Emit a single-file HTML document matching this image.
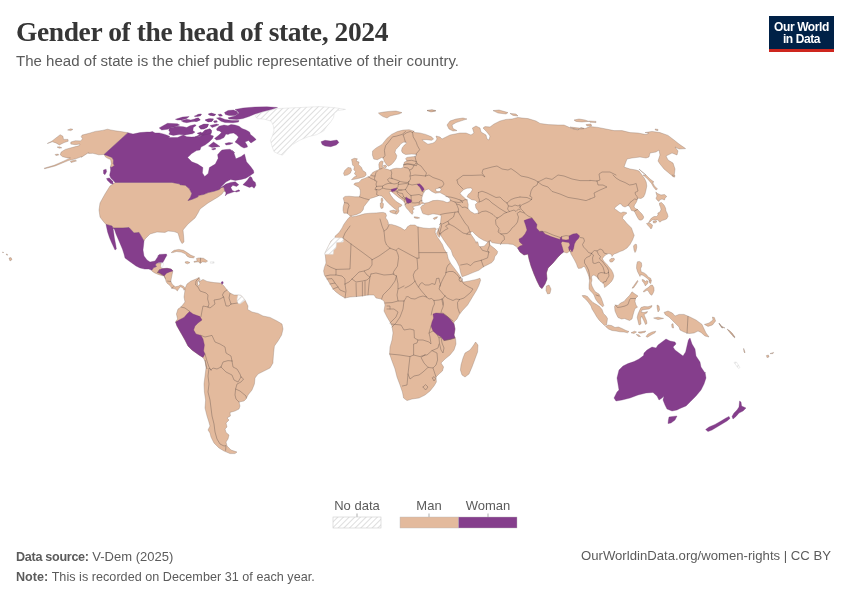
<!DOCTYPE html>
<html lang="en">
<head>
<meta charset="utf-8">
<title>Gender of the head of state, 2024</title>
<style>
html,body{margin:0;padding:0;background:#fff;}
body{width:850px;height:600px;position:relative;overflow:hidden;font-family:"Liberation Sans",sans-serif;}
.title{position:absolute;left:16px;top:15.5px;margin:0;font-family:"Liberation Serif",serif;font-weight:bold;font-size:27.5px;line-height:32px;color:#363636;white-space:nowrap;letter-spacing:-0.4px;}
.subtitle{position:absolute;left:16px;top:51.3px;margin:0;font-size:15.05px;line-height:20px;color:#5b5b5b;white-space:nowrap;}
.logo{position:absolute;left:769px;top:16px;width:65px;height:33px;background:#002147;border-bottom:3px solid #ce261e;color:#fff;font-weight:bold;font-size:12px;line-height:12px;text-align:center;letter-spacing:-0.4px;}
.logo span{display:block;}
.logo span:first-child{margin-top:4.5px;}
.map{position:absolute;left:0;top:0;width:850px;height:600px;}
.legend{position:absolute;left:0;top:0;width:850px;height:600px;pointer-events:none;}
.footer{position:absolute;font-size:12.6px;line-height:16px;color:#5b5b5b;white-space:nowrap;}
.footer b{font-weight:bold;}
.src{left:16px;top:548.6px;font-size:13px;}
.src b{font-size:12.6px;letter-spacing:-0.3px;}
.note{left:16px;top:569px;letter-spacing:0.03px;}
.url{right:19px;top:548px;font-size:13.15px;}
</style>
</head>
<body>
<h1 class="title">Gender of the head of state, 2024</h1>
<p class="subtitle">The head of state is the chief public representative of their country.</p>
<div class="logo"><span>Our World</span><span>in Data</span></div>
<svg class="map" width="850" height="600" viewBox="0 0 850 600">
<defs><pattern id="nd" patternUnits="userSpaceOnUse" width="4" height="4" patternTransform="rotate(45)"><rect width="4" height="4" fill="#fff"/><line x1="0.5" y1="0" x2="0.5" y2="4" stroke="#dedede" stroke-width="1"/></pattern></defs>
<g fill="#e3ba9d" stroke="#7a675c" stroke-width="0.3" stroke-linejoin="round">
<path d="M47.3,143.5 L51.8,141.2 L60.2,134.7 L62.9,136.2 L63.5,139.4 L68.0,139.4 L68.2,141.2 L64.1,142.6 L59.4,144.9 L55.9,142.9 L52.4,141.8Z"/>
<path d="M67.6,130.0 L70.8,128.8 L72.9,129.4 L70.8,130.6Z"/>
<path d="M57.1,147.1 L59.4,146.8 L61.8,147.8 L59.4,148.2Z"/>
<path d="M55.1,154.5 L58.2,154.1 L58.6,155.1 L55.9,155.5Z"/>
<path d="M70.4,161.2 L75.3,160.0 L76.5,160.9 L71.2,162.6Z"/>
<path d="M128.0,132.7 L122.4,131.8 L115.3,130.8 L110.6,129.9 L107.6,129.2 L102.4,130.4 L95.3,131.4 L89.4,133.2 L82.1,135.1 L81.2,136.7 L82.6,138.8 L80.6,140.9 L75.3,140.7 L70.8,142.1 L70.8,144.1 L75.3,144.7 L80.0,144.0 L79.4,145.6 L72.9,147.3 L65.3,149.4 L61.2,152.0 L60.2,154.7 L62.6,156.7 L67.6,157.9 L70.4,157.9 L63.5,161.2 L54.1,165.3 L44.1,168.2 L44.7,168.8 L55.3,165.9 L68.2,160.6 L71.5,159.8 L76.5,158.6 L81.8,156.5 L81.2,157.4 L88.8,152.4 L88.5,153.5 L92.9,153.3 L98.8,154.8 L104.1,154.5Z"/>
<path d="M104.1,154.5 L108.8,156.2 L112.0,157.4 L113.5,160.0 L113.2,163.8 L114.4,165.3 L112.0,167.3 L110.4,167.1 L111.3,163.5 L110.6,159.4 L108.2,158.6 L105.6,157.1Z"/>
<path d="M115.1,182.4 L110.0,186.0 L105.0,194.0 L100.0,203.0 L99.0,210.0 L100.0,217.0 L103.0,221.0 L106.0,224.4 L112.0,226.0 L113.0,228.0 L123.0,228.0 L129.0,227.6 L134.0,233.0 L139.0,232.4 L144.0,241.0 L145.0,239.0 L150.0,234.0 L157.0,232.0 L165.0,232.4 L168.0,231.0 L174.0,231.6 L178.0,233.0 L180.0,240.0 L182.0,243.6 L184.0,242.0 L183.6,236.0 L183.0,230.0 L188.0,224.0 L195.0,218.0 L198.0,213.0 L200.0,209.0 L204.0,206.0 L208.0,203.0 L213.0,200.0 L218.0,197.0 L222.0,194.0 L224.0,191.0 L226.1,192.6 L224.7,190.6 L223.8,187.1 L221.2,187.6 L219.4,189.4 L214.1,191.2 L208.2,192.6 L203.5,194.5 L198.8,195.3 L197.6,197.1 L191.8,199.4 L188.0,200.6 L190.6,197.1 L191.8,193.5 L189.4,188.8 L185.3,185.3 L180.0,184.7 L180.0,184.0 L172.0,182.4Z"/>
<path d="M151.8,270.3 L153.5,267.7 L156.5,266.5 L155.3,265.0 L156.5,263.2 L161.2,263.0 L160.9,266.8 L161.8,268.5 L167.1,268.3 L171.2,269.1 L172.9,270.9 L172.0,275.0 L171.2,279.1 L170.8,281.5 L172.4,284.4 L175.3,286.8 L178.2,286.2 L180.6,285.0 L183.5,286.2 L185.3,288.5 L184.1,290.3 L182.9,287.9 L180.6,286.8 L178.8,288.5 L177.4,290.9 L175.3,289.1 L171.8,288.2 L170.0,285.6 L167.1,283.2 L166.1,281.5 L165.3,278.5 L164.1,275.9 L161.8,275.6 L158.2,274.4 L154.7,272.9 L152.4,271.5Z"/>
<path d="M171.2,252.6 L174.1,250.3 L178.8,249.4 L183.5,250.3 L187.1,252.6 L190.6,255.0 L194.7,256.8 L193.5,257.9 L189.4,257.4 L187.1,256.2 L185.3,253.8 L181.2,252.1 L176.5,251.5 L172.9,252.6Z"/>
<path d="M196.5,258.5 L198.8,257.9 L203.5,258.3 L207.6,261.1 L205.9,262.3 L202.4,261.8 L200.6,263.2 L198.2,261.8 L194.1,262.3 L193.9,261.5 L197.1,260.9Z"/>
<path d="M185.3,261.8 L187.6,261.5 L190.0,262.6 L187.6,263.8 L185.3,263.0Z"/>
<path d="M185.0,288.6 L187.0,284.0 L191.0,281.0 L196.0,279.0 L199.0,277.4 L200.0,279.4 L198.4,282.0 L201.0,280.6 L203.0,279.4 L207.0,281.4 L214.0,282.6 L220.0,283.0 L222.0,284.0 L224.0,286.0 L227.0,290.0 L230.0,293.0 L234.0,295.0 L238.0,295.0 L241.0,295.4 L245.0,300.0 L248.0,306.0 L247.6,309.4 L252.0,312.0 L258.0,313.4 L263.0,316.0 L270.0,317.4 L277.0,321.0 L282.0,324.0 L283.0,329.0 L281.6,335.0 L278.0,341.0 L274.4,346.0 L273.6,353.0 L273.0,361.0 L273.0,363.0 L270.0,368.0 L264.0,371.0 L258.0,374.0 L255.0,378.0 L254.4,384.0 L252.0,390.0 L248.0,395.0 L246.0,399.0 L244.0,401.0 L239.0,402.0 L240.0,406.0 L239.0,409.0 L235.0,411.0 L230.0,412.4 L230.4,416.0 L227.0,418.0 L229.0,420.0 L226.0,423.0 L227.0,427.0 L225.0,429.0 L226.0,432.4 L229.0,435.0 L228.0,439.0 L226.0,442.0 L227.0,446.0 L231.0,450.0 L237.0,452.0 L235.0,453.6 L230.0,453.6 L224.0,451.0 L219.0,448.0 L214.0,443.0 L211.0,437.0 L210.0,433.0 L208.0,430.0 L210.0,426.0 L208.6,421.0 L207.0,416.0 L205.0,408.0 L205.6,400.0 L204.4,392.0 L204.0,384.0 L205.0,376.0 L206.0,368.0 L205.0,360.0 L207.0,369.0 L205.0,361.0 L203.0,357.4 L199.0,355.0 L192.0,350.0 L188.0,346.0 L185.0,340.0 L181.0,333.0 L177.0,326.0 L175.6,322.0 L176.0,321.0 L177.6,319.0 L176.4,314.0 L178.0,309.0 L181.0,307.0 L185.0,302.0 L184.0,297.0 L185.0,290.0Z"/>
<path d="M415.0,132.6 L413.2,130.9 L409.1,129.7 L403.2,130.1 L397.4,131.5 L391.5,134.4 L386.8,138.5 L382.1,144.4 L376.2,147.9 L372.6,150.9 L372.4,155.0 L373.8,159.1 L377.4,159.7 L381.5,157.6 L383.2,157.9 L384.4,161.5 L386.8,165.0 L388.5,166.2 L391.5,164.4 L393.8,162.1 L396.2,158.5 L396.8,155.6 L395.0,152.6 L395.6,149.7 L398.5,146.8 L400.9,143.8 L403.2,142.3 L406.2,142.1 L406.5,143.2 L404.4,145.0 L402.1,147.9 L401.5,150.9 L402.6,152.9 L405.6,154.5 L411.5,154.1 L416.4,154.3 L415.9,156.4 L410.3,156.9 L406.8,157.4 L405.6,158.8 L407.0,160.9 L404.4,162.1 L403.8,164.4 L403.2,167.4 L400.9,168.5 L396.2,168.2 L392.6,168.9 L390.3,170.3 L386.8,169.1 L384.4,168.5 L383.2,166.8 L382.1,166.8 L382.6,164.4 L383.2,161.5 L381.5,160.9 L379.7,162.1 L378.8,164.4 L379.1,167.9 L379.7,169.1 L377.4,170.3 L375.0,171.2 L372.6,172.6 L370.9,175.0 L369.1,176.8 L366.8,177.4 L364.4,178.5 L361.5,179.5 L360.3,180.9 L358.5,182.6 L355.0,183.0 L353.8,184.4 L356.8,186.2 L359.1,187.4 L360.3,190.3 L360.3,193.8 L359.5,196.8 L355.0,196.8 L349.1,196.2 L345.0,196.4 L343.2,197.9 L343.8,200.3 L344.4,202.6 L343.2,206.8 L343.0,210.3 L343.8,213.2 L346.8,213.2 L348.5,214.4 L350.3,216.2 L352.6,215.6 L356.8,214.4 L360.9,212.6 L363.2,209.7 L363.8,206.8 L365.6,204.4 L367.9,201.5 L369.1,199.7 L370.3,198.5 L373.8,197.4 L377.4,196.2 L378.5,195.6 L381.5,195.9 L383.8,197.9 L386.8,201.5 L390.3,205.0 L393.8,207.9 L396.8,210.3 L395.2,212.9 L395.9,214.4 L397.9,213.2 L399.1,210.9 L398.3,209.1 L398.8,207.0 L400.9,206.5 L402.1,205.0 L399.5,203.6 L396.2,201.5 L393.2,198.5 L390.9,195.6 L389.4,192.6 L389.7,191.5 L391.2,191.5 L392.6,192.6 L395.0,194.4 L398.5,197.4 L402.1,199.7 L403.8,201.5 L405.0,203.8 L405.6,206.8 L406.8,208.5 L408.5,210.3 L410.3,212.6 L412.1,214.4 L413.2,212.6 L412.6,210.3 L414.4,209.1 L412.6,206.8 L416.2,205.8 L419.7,205.0 L421.5,203.8 L424.4,203.2 L424.6,204.4 L422.1,205.4 L420.6,207.4 L421.5,210.3 L422.6,213.2 L423.5,213.8 L428.2,215.0 L432.9,213.8 L437.6,214.4 L441.2,215.6 L440.9,218.5 L440.6,222.1 L440.0,225.6 L438.8,228.5 L437.6,230.9 L436.6,233.2 L437.9,235.6 L439.3,237.4 L440.1,235.6 L440.9,233.2 L440.6,235.0 L443.5,239.7 L447.6,245.6 L451.2,250.3 L452.9,255.6 L456.5,260.9 L459.4,266.8 L460.6,272.6 L462.1,276.8 L467.1,275.0 L472.9,272.6 L478.8,270.3 L483.5,266.8 L488.2,264.4 L491.8,262.6 L494.1,259.7 L494.7,256.8 L497.1,253.8 L497.6,251.5 L495.3,249.1 L492.4,246.8 L490.0,245.0 L489.4,242.1 L490.4,240.3 L488.2,241.5 L486.5,243.8 L484.1,246.2 L480.0,246.8 L478.6,245.4 L477.9,242.3 L476.7,241.5 L476.2,243.2 L475.3,240.9 L473.5,237.9 L471.8,235.6 L470.0,232.6 L472.4,231.5 L475.3,234.4 L478.8,237.4 L483.5,240.3 L488.2,242.1 L490.6,240.9 L491.8,242.6 L495.3,243.2 L500.0,243.8 L507.1,243.8 L512.9,244.4 L516.5,246.8 L517.6,248.0 L520.0,252.0 L524.0,255.0 L528.0,254.0 L529.0,259.0 L531.0,266.0 L534.0,274.0 L537.0,281.0 L540.0,287.0 L542.0,288.6 L545.0,284.0 L547.0,279.0 L546.4,273.0 L548.0,268.0 L553.0,263.0 L558.0,257.0 L561.0,254.0 L563.6,252.0 L567.0,253.0 L570.0,251.0 L571.0,254.0 L572.5,256.5 L574.5,260.0 L576.5,264.0 L577.5,267.0 L578.5,268.5 L581.5,268.0 L583.5,266.5 L585.0,267.0 L586.5,270.5 L588.0,274.0 L589.0,277.0 L589.5,281.0 L589.0,285.0 L589.0,289.0 L590.5,291.0 L592.5,293.0 L594.0,295.0 L595.5,299.0 L598.0,302.5 L600.5,305.0 L602.8,306.8 L603.8,305.5 L602.5,301.5 L601.2,298.0 L599.0,294.0 L598.0,293.5 L595.0,291.5 L593.5,289.0 L592.0,286.0 L591.2,283.0 L592.0,280.0 L591.5,277.0 L592.5,275.5 L594.0,275.0 L595.5,276.0 L597.0,277.0 L598.5,279.0 L600.5,281.5 L603.0,283.0 L604.0,284.5 L604.5,287.5 L606.0,286.5 L609.0,284.0 L611.5,281.5 L613.0,279.0 L613.8,276.0 L613.0,273.0 L611.5,270.0 L609.0,267.0 L607.0,264.5 L604.5,262.0 L603.0,260.0 L602.5,258.5 L604.0,256.5 L605.5,255.0 L607.0,254.0 L609.0,253.5 L611.5,254.5 L612.0,256.5 L613.0,255.0 L614.0,254.0 L617.0,253.0 L620.0,251.5 L623.0,250.5 L627.0,248.0 L630.0,244.5 L632.5,240.0 L634.0,236.0 L634.2,235.0 L634.0,235.0 L632.5,231.0 L631.5,228.0 L629.0,225.5 L626.5,223.0 L624.5,220.5 L622.5,218.5 L623.0,216.5 L625.0,214.5 L627.0,213.0 L625.0,212.2 L623.0,212.0 L621.0,213.0 L619.0,212.0 L616.5,210.0 L614.5,209.0 L615.0,207.5 L617.5,205.5 L619.5,204.0 L621.2,204.0 L622.5,206.0 L625.0,207.0 L628.0,205.5 L629.5,206.5 L630.5,208.5 L631.5,210.5 L634.0,211.0 L635.0,212.5 L636.2,215.0 L637.5,217.5 L639.0,219.8 L641.0,220.2 L643.0,219.0 L643.8,217.0 L642.0,214.0 L639.5,211.5 L637.5,209.5 L635.5,208.5 L634.0,207.0 L634.5,205.0 L636.2,202.5 L637.0,200.5 L637.0,199.5 L638.5,198.2 L641.0,198.5 L643.5,197.0 L645.0,194.0 L646.0,190.0 L646.8,186.0 L646.2,182.0 L644.5,178.5 L642.0,175.0 L639.0,171.0 L636.0,170.0 L630.0,169.0 L624.0,167.0 L627.0,159.0 L632.0,158.0 L640.0,157.0 L646.0,158.0 L649.0,157.0 L650.0,153.0 L656.0,152.0 L659.0,150.0 L660.0,155.0 L658.0,161.0 L660.0,164.0 L664.0,169.0 L670.0,174.0 L674.0,177.0 L675.0,169.0 L673.0,163.0 L668.0,160.0 L666.0,156.0 L672.0,153.0 L677.0,155.0 L678.0,151.0 L675.0,147.0 L679.0,149.0 L685.6,148.6 L679.0,144.0 L674.0,140.0 L668.0,135.4 L660.0,132.6 L652.0,131.4 L645.0,132.6 L649.0,133.0 L646.0,134.6 L638.0,133.0 L630.0,132.6 L622.0,130.6 L614.0,130.6 L606.0,129.0 L598.0,127.4 L590.0,126.6 L585.0,128.6 L581.0,127.4 L578.0,130.0 L574.0,129.0 L570.0,127.0 L584.0,128.6 L578.0,129.4 L572.0,128.6 L564.0,125.0 L558.0,125.0 L548.0,124.6 L540.0,123.4 L536.0,121.0 L528.0,118.6 L522.0,118.0 L518.0,117.4 L512.0,119.0 L506.0,119.4 L500.0,121.0 L494.0,124.0 L490.0,127.0 L485.0,126.6 L483.0,128.0 L486.0,131.0 L490.0,136.0 L489.0,140.0 L487.0,139.0 L486.0,135.0 L481.0,132.0 L480.0,128.0 L476.0,126.0 L472.4,128.0 L474.0,133.0 L471.0,135.0 L466.0,133.0 L460.0,133.0 L455.0,134.0 L450.0,135.0 L446.0,137.0 L442.0,139.0 L440.0,137.0 L436.0,136.0 L437.0,139.0 L435.0,142.0 L432.6,143.2 L427.9,144.2 L423.8,141.5 L422.1,139.7 L426.8,139.7 L431.5,140.3 L433.6,139.1 L431.5,136.8 L425.6,134.4 L419.7,132.9Z"/>
<path d="M351.5,159.5 L354.4,158.3 L357.4,158.8 L356.2,161.1 L359.1,162.1 L358.5,164.4 L361.5,167.4 L362.6,170.3 L365.8,172.6 L366.2,175.0 L364.4,176.8 L360.3,177.9 L355.6,179.1 L351.5,179.7 L354.4,176.8 L356.8,176.2 L354.4,173.8 L355.6,171.5 L353.8,169.7 L354.4,166.8 L352.6,165.0 L352.1,162.1Z"/>
<path d="M343.5,173.2 L345.0,170.3 L347.9,167.4 L350.9,167.9 L351.5,170.3 L350.3,173.2 L347.4,175.0 L344.4,175.6Z"/>
<path d="M383.2,165.6 L385.6,165.0 L386.8,166.8 L385.0,167.9Z"/>
<path d="M378.4,113.0 L384.0,112.0 L389.0,111.4 L396.0,111.0 L402.0,112.6 L399.0,114.0 L394.0,115.0 L390.0,116.0 L387.0,118.0 L383.0,116.6 L380.0,114.6Z"/>
<path d="M427.0,110.4 L432.0,109.8 L436.0,110.6 L432.0,111.6Z"/>
<path d="M389.7,210.9 L393.8,210.1 L396.2,210.9 L395.0,213.8 L392.6,213.2 L390.1,212.1Z"/>
<path d="M380.3,203.0 L382.1,202.3 L383.5,203.8 L383.0,207.9 L381.1,208.5 L380.3,206.2Z"/>
<path d="M381.1,198.5 L382.3,197.9 L383.0,200.3 L382.1,202.3 L381.1,201.5Z"/>
<path d="M414.1,216.8 L417.4,217.1 L419.7,217.9 L417.4,218.5 L414.4,217.9Z"/>
<path d="M433.2,218.3 L435.9,217.1 L437.6,216.8 L436.5,218.5 L434.1,219.5Z"/>
<path d="M447.0,125.0 L450.0,121.0 L456.0,119.0 L463.0,118.0 L467.0,119.0 L462.0,120.6 L456.0,122.6 L452.0,125.0 L453.0,128.6 L457.0,130.6 L453.0,131.0 L449.0,129.0Z"/>
<path d="M427.0,110.6 L432.0,110.0 L435.6,111.0 L431.0,112.0Z"/>
<path d="M493.0,110.6 L499.0,110.0 L508.0,112.6 L506.0,114.0 L498.0,113.0Z"/>
<path d="M510.0,113.4 L516.0,114.0 L518.0,116.0 L513.0,115.4Z"/>
<path d="M574.0,120.0 L579.0,119.0 L585.0,120.0 L589.0,121.4 L582.0,122.0 L576.0,121.4Z"/>
<path d="M589.0,121.0 L596.0,121.4 L596.0,122.6 L590.0,122.2Z"/>
<path d="M586.0,124.6 L591.0,124.0 L591.6,126.0 L587.0,126.0Z"/>
<path d="M655.0,129.0 L658.0,129.4 L658.0,130.6 L655.6,130.2Z"/>
<path d="M639.0,169.0 L642.0,172.0 L646.0,175.0Z"/>
<path d="M643.0,175.0 L646.0,175.0 L650.0,179.0 L654.0,182.0 L652.5,182.5 L654.5,186.0 L657.5,189.0 L656.0,190.0 L653.5,187.0 L651.5,183.5 L648.5,180.0 L645.5,177.0Z"/>
<path d="M655.8,192.0 L657.5,193.5 L661.0,195.0 L664.5,194.5 L666.8,196.5 L665.0,198.0 L664.5,200.0 L662.0,199.0 L659.5,200.0 L659.0,201.5 L657.0,200.0 L656.0,198.2 L657.0,196.0Z"/>
<path d="M659.5,203.0 L661.5,202.5 L664.0,205.0 L665.5,208.0 L666.0,211.0 L667.5,214.0 L668.0,216.5 L666.5,219.0 L664.0,220.0 L662.0,220.5 L659.8,222.2 L658.8,221.0 L657.8,219.8 L655.5,220.2 L653.5,219.8 L652.0,220.0 L650.0,222.0 L648.5,222.8 L650.0,220.0 L651.5,218.0 L654.0,216.5 L656.5,216.5 L658.0,215.0 L657.8,213.0 L660.0,212.0 L661.0,209.5 L660.5,207.0 L659.5,205.0Z"/>
<path d="M653.0,221.2 L655.5,220.8 L657.0,221.5 L655.5,222.8 L653.5,223.0Z"/>
<path d="M646.5,223.5 L648.5,223.0 L650.5,223.5 L652.5,225.0 L652.0,227.5 L651.0,229.0 L649.5,227.0 L648.0,225.5Z"/>
<path d="M672.0,175.0 L675.0,175.5 L674.5,177.2 L672.5,176.2Z"/>
<path d="M546.4,286.0 L549.0,285.0 L551.0,289.0 L550.0,293.4 L547.6,294.0 L546.0,290.6Z"/>
<path d="M609.5,260.0 L611.0,258.5 L614.0,258.2 L614.5,259.5 L613.0,261.5 L611.0,262.2 L609.8,261.5Z"/>
<path d="M633.5,246.0 L635.0,244.2 L636.5,244.5 L636.8,247.0 L636.0,251.0 L635.0,252.5 L634.0,250.0Z"/>
<path d="M657.0,305.0 L659.0,306.0 L659.6,310.0 L658.0,312.0 L657.2,308.0Z"/>
<path d="M653.6,318.0 L658.0,317.2 L663.6,318.4 L658.0,319.6Z"/>
<path d="M664.0,312.4 L668.0,311.0 L672.4,313.0 L675.0,316.0 L679.0,314.4 L684.0,314.4 L690.0,317.0 L696.0,320.0 L702.0,324.4 L703.6,328.0 L706.0,333.0 L709.0,337.0 L705.0,336.0 L701.0,332.4 L698.0,331.0 L694.0,333.0 L689.0,333.6 L684.0,332.0 L680.0,330.0 L679.0,327.0 L675.0,323.0 L672.0,320.0 L669.0,317.0 L665.6,315.0Z"/>
<path d="M671.6,324.4 L673.0,323.6 L673.6,328.0 L672.0,327.6Z"/>
<path d="M704.4,324.4 L709.0,323.0 L713.0,320.0 L712.4,317.0 L714.4,317.6 L715.6,321.0 L712.4,325.0 L708.0,326.4Z"/>
<path d="M719.0,323.0 L722.0,326.4 L725.0,328.0 L721.6,327.2Z"/>
<path d="M728.0,330.0 L732.0,333.0 L735.0,337.0 L731.2,334.0Z"/>
<path d="M350.9,215.9 L352.6,216.8 L355.6,216.2 L358.5,215.6 L364.4,213.8 L370.3,213.2 L376.2,212.9 L380.3,212.6 L383.2,212.4 L385.6,213.2 L386.5,215.6 L385.6,217.9 L387.4,220.3 L388.5,223.2 L387.9,224.4 L391.5,224.4 L396.2,225.8 L400.9,227.7 L404.4,230.1 L406.2,229.1 L407.4,226.8 L410.3,225.0 L415.0,225.0 L417.4,226.8 L423.2,227.9 L429.1,228.5 L435.0,227.9 L436.5,228.9 L435.4,230.3 L435.2,232.6 L436.5,235.2 L437.6,237.4 L438.8,239.1 L442.4,244.4 L444.1,249.1 L447.1,253.8 L448.2,258.5 L450.6,263.2 L454.1,267.9 L457.6,272.6 L460.6,276.8 L461.8,280.3 L463.5,282.1 L469.4,280.9 L475.3,279.7 L480.0,278.3 L480.6,280.3 L478.8,285.6 L476.5,290.3 L472.9,296.2 L469.4,302.1 L467.6,305.0 L462.0,311.0 L459.0,315.0 L457.0,319.0 L454.0,322.0 L454.0,324.0 L455.0,329.0 L454.0,335.0 L455.6,339.0 L456.0,344.0 L454.0,350.0 L450.0,355.0 L445.0,359.0 L441.0,363.0 L443.6,367.0 L442.4,371.0 L439.0,374.0 L436.0,377.0 L436.4,382.0 L434.0,386.0 L430.0,391.0 L425.0,395.0 L419.0,398.0 L412.0,399.0 L407.0,400.6 L403.6,398.0 L402.4,392.0 L400.0,385.0 L397.0,377.0 L395.0,369.0 L392.0,361.0 L389.6,354.0 L390.0,347.0 L392.0,340.0 L393.0,333.0 L392.0,326.0 L390.0,322.0 L387.0,317.0 L384.0,311.0 L385.0,305.0 L384.0,301.0 L381.0,299.0 L376.0,298.0 L374.0,295.0 L368.0,295.0 L362.0,296.0 L356.0,296.6 L350.0,297.0 L345.0,298.0 L340.0,295.0 L336.0,292.0 L333.0,289.0 L330.0,284.0 L327.0,279.0 L324.4,275.0 L323.6,271.0 L324.4,267.4 L326.0,263.0 L325.6,258.0 L325.0,253.0 L328.0,247.0 L331.0,241.0 L335.0,238.0 L335.0,236.2 L339.1,232.6 L342.1,227.9 L343.8,224.4 L346.8,220.3 L349.1,217.4Z"/>
<path d="M461.0,365.0 L463.0,358.0 L465.0,353.0 L470.0,350.0 L473.0,346.0 L475.6,342.0 L478.0,345.0 L477.6,352.0 L475.0,359.0 L472.0,367.0 L469.0,374.0 L465.0,377.0 L462.0,375.0 L460.4,370.0Z"/>
<path d="M9.0,258.0 L11.0,257.6 L12.0,259.6 L10.0,261.0Z"/>
<path d="M6.0,254.0 L7.6,254.4 L7.2,255.4Z"/>
<path d="M2.4,252.0 L3.6,252.4 L3.0,253.0Z"/>
<path d="M719.0,323.6 L721.0,326.4 L723.0,328.0 L721.6,327.6Z"/>
<path d="M727.0,329.0 L730.0,331.0 L732.4,334.0 L735.0,338.0 L733.6,337.0 L731.0,333.6Z"/>
<path d="M743.6,348.4 L744.6,351.0 L745.0,353.0 L744.0,352.0Z"/>
<path d="M766.4,355.6 L768.4,355.0 L769.0,357.0 L767.0,357.6Z"/>
<path d="M770.0,353.6 L773.6,352.4 L773.0,353.6Z"/>
<path d="M637.4,261.8 L639.4,261.4 L641.4,262.7 L641.8,265.9 L640.6,268.8 L641.2,271.8 L644.1,272.9 L646.5,274.7 L648.2,277.1 L650.6,278.2 L651.5,280.8 L650.0,281.8 L648.8,280.0 L647.1,278.2 L644.7,276.5 L642.9,275.3 L640.6,274.7 L640.0,276.5 L638.8,274.1 L637.6,271.8 L636.5,268.2 L636.7,264.7Z"/>
<path d="M642.1,279.4 L644.1,280.0 L645.3,281.8 L646.5,280.6 L648.2,281.2 L647.6,283.5 L646.5,284.7 L645.3,285.9 L644.5,284.1 L643.5,282.4 L642.4,281.2Z"/>
<path d="M649.4,280.0 L651.2,281.2 L650.8,283.5 L649.6,282.9Z"/>
<path d="M643.3,291.2 L645.3,289.4 L648.2,287.6 L650.6,285.3 L652.4,285.1 L653.9,287.6 L654.1,290.6 L653.2,292.9 L651.8,295.3 L650.0,294.1 L648.8,291.8 L647.1,290.0 L645.3,291.2 L643.8,292.1Z"/>
<path d="M632.0,288.2 L634.1,285.3 L636.5,281.8 L637.6,280.4 L637.9,281.5 L635.9,284.7 L633.5,287.9Z"/>
<path d="M582.2,295.5 L585.0,295.5 L587.5,296.5 L590.0,299.5 L593.0,302.5 L596.5,304.5 L599.5,306.5 L602.0,309.5 L603.5,313.5 L606.0,316.0 L607.5,318.5 L607.0,322.0 L606.5,325.0 L604.5,325.5 L602.0,323.0 L599.0,320.0 L596.5,316.5 L594.5,313.0 L592.0,309.0 L591.0,306.0 L588.5,302.5 L585.5,299.0 L583.0,297.0Z"/>
<path d="M605.5,326.5 L608.0,325.0 L611.5,325.5 L615.0,327.5 L618.5,327.0 L622.0,328.5 L626.0,330.5 L629.0,331.5 L627.5,332.8 L624.0,332.0 L620.0,331.8 L616.0,331.0 L612.0,330.5 L608.5,329.0Z"/>
<path d="M631.0,332.8 L634.5,331.2 L636.5,332.0 L634.0,333.5Z"/>
<path d="M638.2,332.0 L641.0,331.8 L645.8,331.0 L645.0,332.2 L641.0,333.2 L639.0,333.0Z"/>
<path d="M636.2,334.5 L638.5,334.8 L640.5,336.5 L638.5,336.5Z"/>
<path d="M646.0,336.5 L648.0,334.0 L652.0,332.0 L655.8,331.2 L655.0,332.8 L651.0,335.0 L647.5,337.2Z"/>
<path d="M614.5,306.5 L615.5,305.0 L618.0,305.5 L620.5,303.0 L624.0,301.5 L626.5,298.5 L629.5,295.5 L632.0,291.8 L635.0,294.0 L638.0,296.0 L635.5,298.5 L635.0,301.5 L636.0,305.0 L637.5,307.2 L635.0,308.5 L634.0,311.5 L633.0,315.0 L632.0,319.0 L629.5,320.5 L627.0,319.5 L624.5,318.5 L621.5,319.0 L618.0,317.5 L616.5,314.5 L615.0,311.0Z"/>
<path d="M637.2,317.5 L638.0,314.0 L639.5,310.5 L641.0,307.5 L644.0,306.5 L648.0,306.8 L652.0,305.5 L651.5,307.2 L649.0,309.0 L645.0,309.5 L642.0,310.0 L641.0,312.0 L644.0,312.5 L647.5,311.5 L646.8,313.0 L644.0,314.5 L645.0,317.0 L646.5,320.5 L647.0,323.5 L645.5,324.5 L644.0,321.0 L642.5,318.0 L641.5,316.0 L640.5,319.0 L641.0,324.0 L639.0,325.0 L638.0,321.0Z"/>
</g>
<g fill="#fff" stroke="#7a675c" stroke-width="0.3" stroke-linejoin="round">
<path d="M421.8,197.9 L423.5,192.6 L425.9,189.7 L428.8,189.1 L431.8,191.5 L435.3,193.2 L440.0,192.6 L443.5,194.4 L447.6,196.8 L450.4,199.1 L450.0,201.5 L447.1,202.6 L442.9,200.9 L437.6,200.3 L432.9,200.6 L428.2,202.6 L424.1,203.2 L421.8,201.5Z"/>
<path d="M435.3,189.1 L439.4,187.9 L441.4,189.1 L440.0,191.5 L436.5,191.5Z"/>
<path d="M460.0,193.2 L463.5,189.7 L467.1,188.2 L471.2,187.9 L472.4,189.7 L470.6,192.6 L468.2,194.4 L467.1,196.8 L471.8,199.7 L475.3,200.3 L477.6,202.6 L475.3,204.4 L475.9,207.9 L478.2,210.9 L478.2,213.2 L474.7,213.8 L470.6,211.5 L468.0,208.5 L468.2,204.4 L467.1,200.3 L464.1,197.4 L461.8,195.6Z"/>
<path d="M197.6,281.5 L198.8,280.9 L199.8,283.2 L199.1,285.8 L197.9,285.4Z"/>
</g>
<g fill="url(#nd)" stroke="#dadada" stroke-width="0.5" stroke-linejoin="round">
<path d="M254.9,116.2 L258.4,113.4 L268.3,110.6 L278.2,108.5 L299.5,107.5 L319.3,106.6 L333.5,107.5 L345.5,109.4 L337.7,110.6 L334.2,113.4 L333.5,117.7 L330.7,121.9 L326.4,126.9 L323.6,131.1 L316.5,134.7 L308.0,136.8 L299.5,140.3 L292.4,144.6 L286.7,150.2 L282.5,155.2 L278.2,153.8 L274.0,151.7 L271.9,146.0 L270.5,140.3 L272.6,135.4 L274.0,130.4 L273.3,125.5 L271.2,121.2 L264.1,119.1 L257.7,118.8Z"/>
<path d="M161.2,262.3 L163.2,262.3 L163.5,264.4 L162.4,267.4 L160.9,266.8Z"/>
<path d="M210.4,261.8 L214.1,261.8 L214.1,263.2 L210.4,263.2Z"/>
<path d="M238.0,295.0 L241.0,295.4 L245.0,300.0 L244.0,301.0 L240.0,304.0 L237.6,303.0 L237.0,299.0Z"/>
<path d="M334.5,237.8 L343.2,238.0 L343.2,242.0 L336.5,242.6 L336.0,247.8 L333.5,250.2 L333.2,254.2 L324.5,254.2 L326.5,250.0 L329.0,245.0 L331.5,241.0Z"/>
<path d="M734.0,362.4 L736.4,362.0 L740.0,367.6 L738.4,368.4Z"/>
</g>
<g fill="#853e8c" stroke="#6b3070" stroke-width="0.3" stroke-linejoin="round">
<path d="M103.5,170.0 L106.1,169.2 L106.6,171.8 L104.9,174.7 L103.5,173.5Z"/>
<path d="M106.5,178.6 L109.4,177.9 L112.7,181.2 L113.2,184.1 L110.6,183.5 L107.6,180.6Z"/>
<path d="M128.0,132.7 L104.1,154.5 L108.8,156.2 L112.0,157.4 L113.5,160.0 L113.2,163.8 L114.4,165.3 L112.0,167.3 L110.4,167.1 L110.6,170.6 L109.6,175.3 L110.8,177.9 L112.9,180.0 L115.1,182.4 L172.0,182.4 L180.0,184.0 L180.0,184.7 L185.3,185.3 L189.4,188.8 L191.8,193.5 L190.6,197.1 L188.0,200.6 L191.8,199.4 L197.6,197.1 L198.8,195.3 L203.5,194.5 L208.2,192.6 L214.1,191.2 L219.4,189.4 L221.2,187.6 L223.8,187.1 L224.7,190.6 L226.1,192.6 L225.3,195.9 L227.1,194.1 L231.8,192.6 L238.8,189.8 L240.0,190.9 L236.5,192.1 L232.4,190.6 L230.8,187.6 L232.9,185.3 L236.5,186.5 L238.8,184.7 L235.3,181.8 L230.6,182.4 L225.9,184.1 L221.8,187.1 L220.0,187.9 L225.9,182.0 L230.6,179.6 L235.3,180.4 L241.2,179.4 L245.9,178.2 L250.6,175.3 L253.9,172.9 L253.5,170.6 L250.6,166.5 L246.5,161.8 L244.7,154.7 L244.5,154.1 L241.2,156.5 L235.9,158.8 L233.5,151.8 L231.8,150.0 L235.0,153.0 L233.0,151.5 L230.0,149.2 L226.0,149.5 L222.0,150.0 L220.6,151.2 L217.6,154.7 L218.2,158.2 L215.3,164.1 L209.4,167.6 L208.2,173.5 L204.7,176.5 L202.4,172.9 L202.9,167.6 L197.6,164.1 L191.8,161.8 L187.6,157.6 L191.8,153.5 L196.5,150.6 L200.0,150.0 L201.0,147.0 L205.0,145.0 L209.0,142.0 L212.5,138.5 L213.5,136.0 L210.5,135.0 L211.5,132.0 L210.0,129.0 L205.0,130.0 L201.0,134.0 L195.0,137.0 L211.2,133.3 L211.7,130.4 L210.0,128.8 L207.5,129.6 L205.8,132.5 L203.3,135.0 L200.0,136.2 L196.7,136.7 L191.7,137.1 L186.7,136.7 L183.3,135.0 L177.5,137.5 L167.9,137.5 L170.0,136.7 L167.9,135.4 L164.2,134.2 L159.2,132.9 L155.0,132.9 L152.5,131.5 L150.0,132.1 L147.0,132.0 L140.0,132.6 L133.0,134.0Z"/>
<path d="M242.9,184.7 L247.1,180.6 L250.0,176.5 L251.8,177.6 L252.9,180.6 L255.3,182.4 L255.9,185.3 L254.1,188.2 L252.0,186.5 L249.4,187.4 L245.9,185.9Z"/>
<path d="M159.2,127.9 L167.5,123.3 L177.5,123.8 L179.6,125.0 L175.0,126.7 L170.0,127.9 L167.9,129.2 L161.7,130.0Z"/>
<path d="M169.2,128.3 L177.5,126.2 L183.3,126.7 L186.7,127.5 L190.0,125.8 L195.0,124.6 L196.2,125.4 L193.3,127.5 L192.9,130.8 L195.0,132.1 L192.5,133.8 L189.2,134.2 L185.0,135.0 L179.2,134.6 L173.3,135.4 L168.8,134.2 L170.0,132.1 L168.8,130.4Z"/>
<path d="M175.4,119.3 L182.5,117.1 L189.2,116.5 L186.7,118.5 L181.7,120.0 L177.5,120.0Z"/>
<path d="M181.2,120.8 L186.7,119.3 L190.8,120.0 L195.4,118.8 L198.3,117.9 L200.4,119.8 L196.7,121.2 L191.7,121.8 L186.7,122.7 L183.3,122.1Z"/>
<path d="M194.2,116.2 L198.8,114.2 L201.7,114.3 L200.0,115.8 L195.8,116.8Z"/>
<path d="M205.0,120.0 L208.3,118.8 L213.3,118.8 L212.1,121.2 L208.3,122.1Z"/>
<path d="M208.3,114.2 L211.2,113.2 L215.8,114.3 L214.2,115.8 L210.0,115.4Z"/>
<path d="M198.8,126.7 L203.3,124.6 L208.3,124.2 L207.5,126.7 L204.2,128.8 L200.8,129.2Z"/>
<path d="M197.1,133.3 L200.8,132.1 L202.9,133.8 L200.0,135.0Z"/>
<path d="M235.0,109.5 L243.0,108.0 L255.0,107.0 L267.0,106.8 L277.5,107.5 L271.0,109.5 L263.0,111.5 L255.0,114.0 L249.0,116.5 L243.0,118.5 L237.0,119.5 L229.0,119.0 L228.0,117.8 L235.0,116.0 L239.0,113.0 L237.0,110.8Z"/>
<path d="M224.5,112.5 L228.0,110.5 L233.5,110.0 L237.0,111.5 L238.0,113.5 L235.0,115.5 L229.0,115.5 L225.5,114.5Z"/>
<path d="M216.5,118.0 L220.0,117.5 L225.0,119.5 L232.0,120.5 L239.0,120.5 L238.5,122.0 L233.0,122.8 L225.0,122.5 L221.0,121.2Z"/>
<path d="M208.5,114.0 L211.5,113.2 L215.5,114.8 L213.0,115.8Z"/>
<path d="M218.0,114.5 L221.0,114.0 L222.5,116.0 L219.5,116.2Z"/>
<path d="M205.5,120.0 L210.0,118.8 L213.5,119.5 L211.5,121.5 L207.5,121.5Z"/>
<path d="M213.5,121.0 L216.5,120.5 L217.5,122.0 L214.5,122.8Z"/>
<path d="M195.0,119.0 L198.0,118.0 L200.0,120.0 L197.0,121.5 L195.0,121.2Z"/>
<path d="M197.0,115.0 L201.0,114.0 L200.5,115.8 L197.5,116.2Z"/>
<path d="M199.0,126.2 L204.0,124.0 L208.5,124.5 L207.0,127.5 L203.0,129.0 L200.5,128.0Z"/>
<path d="M210.0,125.5 L216.5,124.0 L219.0,124.8 L215.0,126.5 L212.0,127.5Z"/>
<path d="M216.5,129.0 L219.0,126.2 L224.0,125.0 L228.0,125.8 L231.0,124.5 L235.0,125.0 L239.0,126.2 L242.0,128.5 L246.0,130.0 L249.5,132.0 L250.5,134.5 L253.0,136.5 L256.2,139.5 L254.0,141.0 L251.0,143.0 L248.5,140.5 L245.0,142.0 L247.0,145.0 L247.5,147.0 L244.0,148.0 L241.0,146.5 L238.0,144.0 L235.0,142.0 L237.0,139.5 L238.5,137.0 L236.0,134.5 L233.5,133.0 L230.0,133.5 L228.0,134.5 L226.0,134.0 L224.0,137.5 L220.0,139.5 L216.5,140.0 L214.5,138.5 L219.0,135.0 L221.5,132.5 L219.5,131.0 L217.0,130.5Z"/>
<path d="M225.0,143.5 L229.0,142.5 L233.0,143.0 L230.0,144.5 L226.0,145.0Z"/>
<path d="M208.5,146.0 L213.5,142.0 L216.5,144.0 L220.0,146.5 L216.0,147.0 L212.0,147.5Z"/>
<path d="M211.5,149.0 L215.0,148.0 L216.0,149.0 L213.0,150.0Z"/>
<path d="M321.0,141.7 L325.0,140.3 L330.7,141.0 L337.0,140.0 L338.9,142.5 L336.3,144.9 L330.7,146.7 L325.0,146.0 L322.2,144.6Z"/>
<path d="M106.0,224.4 L112.0,226.0 L113.0,228.0 L123.0,228.0 L129.0,227.6 L134.0,233.0 L139.0,232.4 L144.0,241.0 L143.6,245.0 L143.0,250.0 L144.0,256.0 L147.0,260.0 L150.0,262.0 L155.0,261.0 L157.0,258.0 L159.0,255.0 L157.6,256.2 L159.4,254.4 L166.5,254.1 L166.8,255.6 L165.3,257.9 L164.1,260.3 L162.9,262.3 L158.8,262.6 L156.5,263.2 L155.3,265.0 L156.5,266.5 L153.5,267.7 L151.8,270.3 L148.8,269.1 L144.7,269.1 L140.0,267.9 L136.0,266.0 L129.0,261.0 L125.0,258.0 L124.0,254.0 L122.4,249.0 L119.0,241.0 L116.0,234.0 L114.4,229.2 L113.0,228.0 L113.6,232.0 L114.4,238.0 L115.6,244.0 L116.4,249.0 L115.0,250.0 L112.0,243.6 L109.6,238.0 L107.6,232.0Z"/>
<path d="M159.4,269.7 L161.8,268.8 L167.1,268.3 L171.2,269.1 L172.9,270.9 L169.4,272.1 L166.5,273.2 L164.1,275.9 L162.4,274.8 L159.4,272.9 L157.6,272.4Z"/>
<path d="M221.2,282.1 L222.9,281.5 L223.3,283.2 L221.8,284.2Z"/>
<path d="M175.6,322.0 L179.0,320.0 L184.0,317.4 L187.0,314.0 L189.6,311.4 L193.0,314.0 L200.0,316.6 L202.0,320.0 L198.0,323.0 L195.0,326.0 L193.6,330.0 L196.0,334.0 L201.0,335.4 L203.0,339.0 L204.4,345.0 L203.6,351.0 L205.0,354.0 L203.0,357.4 L199.0,355.0 L192.0,350.0 L188.0,346.0 L185.0,340.0 L181.0,333.0 L177.0,326.0Z"/>
<path d="M391.0,189.5 L393.5,188.8 L397.0,188.0 L396.5,189.5 L394.5,191.0 L392.0,191.8 L391.2,190.8Z"/>
<path d="M405.2,198.0 L406.5,197.2 L408.0,198.5 L410.5,199.5 L411.8,201.0 L411.0,202.5 L408.5,203.2 L406.8,202.8 L406.2,200.5Z"/>
<path d="M417.0,184.2 L419.5,183.8 L421.5,185.5 L423.5,188.0 L424.2,189.5 L423.0,190.5 L422.2,191.5 L421.2,189.5 L419.8,187.0 L418.0,185.5Z"/>
<path d="M524.0,220.6 L528.0,219.0 L532.0,218.0 L534.4,221.0 L537.0,224.6 L536.4,228.0 L539.6,231.4 L542.4,231.0 L545.0,234.0 L551.0,236.6 L557.0,238.6 L560.0,239.4 L560.4,237.4 L561.6,236.6 L562.0,239.4 L566.0,240.0 L569.0,239.4 L569.0,236.0 L573.0,234.0 L577.0,233.4 L579.6,236.0 L578.4,238.6 L576.0,241.0 L574.4,244.0 L573.6,248.6 L572.0,252.0 L570.4,249.0 L569.6,251.0 L568.4,247.4 L570.0,245.0 L569.0,242.6 L565.0,242.0 L562.4,241.4 L561.0,243.0 L562.4,247.4 L563.6,252.0 L561.0,254.0 L558.0,257.0 L553.0,263.0 L548.0,268.0 L546.4,273.0 L547.0,279.0 L545.0,284.0 L542.0,288.6 L540.0,287.0 L537.0,281.0 L534.0,274.0 L531.0,266.0 L529.0,259.0 L528.0,254.0 L524.0,255.0 L520.0,252.0 L517.6,248.0 L520.0,246.0 L523.0,245.0 L519.6,242.0 L519.0,239.0 L522.0,237.4 L525.0,234.0 L527.0,230.0 L525.6,225.0Z"/>
<path d="M666.0,339.0 L670.0,341.0 L675.0,342.0 L676.0,344.0 L673.0,347.0 L675.0,350.0 L679.0,353.0 L683.0,356.0 L685.6,352.0 L687.0,346.0 L688.4,340.0 L690.0,338.0 L692.0,344.0 L695.0,349.0 L696.0,356.0 L700.0,362.0 L701.0,367.0 L705.0,373.0 L705.0,372.0 L706.0,378.0 L704.0,384.0 L701.0,390.0 L696.0,396.0 L691.0,401.0 L686.0,406.0 L680.0,408.4 L677.0,410.0 L672.0,411.0 L667.0,409.0 L665.0,405.0 L663.0,400.0 L664.0,396.0 L662.0,398.0 L659.0,400.0 L657.0,396.0 L653.0,392.4 L646.0,393.0 L638.0,395.0 L630.0,398.0 L622.0,400.0 L616.0,401.0 L614.0,398.0 L617.0,392.0 L619.0,390.0 L618.0,384.0 L617.0,378.0 L619.0,370.0 L623.0,366.0 L628.0,363.6 L634.0,361.6 L639.0,359.0 L643.6,355.6 L644.0,353.0 L647.0,350.0 L652.0,347.0 L656.0,348.0 L658.0,345.0 L662.0,342.0Z"/>
<path d="M669.0,417.0 L673.0,416.4 L677.0,416.0 L675.0,420.0 L671.0,423.0 L668.0,423.6 L668.4,420.0Z"/>
<path d="M705.6,429.6 L709.0,427.0 L715.0,424.4 L721.0,421.0 L726.0,418.0 L729.0,416.4 L730.0,418.4 L727.0,421.0 L722.0,424.0 L717.0,427.0 L712.0,430.0 L708.0,431.6Z"/>
<path d="M732.0,416.4 L734.0,413.0 L737.0,410.0 L739.0,407.0 L739.6,401.0 L741.0,402.0 L741.6,406.0 L746.0,408.0 L743.0,411.0 L739.0,413.0 L736.0,416.4 L733.0,419.0Z"/>
<path d="M433.0,314.0 L436.0,313.0 L443.0,313.4 L448.0,317.0 L450.0,319.0 L454.0,324.0 L455.0,329.0 L454.0,335.0 L455.0,338.0 L450.0,339.4 L444.0,340.6 L441.0,337.0 L437.0,334.6 L433.0,331.0 L431.0,326.0 L432.0,322.0 L433.6,318.0Z"/>
</g>
<g fill="none" stroke="#7a675c" stroke-width="0.5" stroke-linejoin="round" stroke-linecap="round">
<path d="M200.6,258.2 L200.2,263.2"/>
<path d="M159.4,269.7 L157.6,272.6"/>
<path d="M164.1,275.9 L165.3,278.5"/>
<path d="M167.6,281.1 L170.8,281.5"/>
<path d="M173.5,286.8 L171.8,288.2"/>
<path d="M157.6,272.6 L159.4,273.2 L162.4,275.0"/>
<path d="M199.0,278.0 L196.0,281.0 L195.6,285.0 L198.0,287.0 L200.0,291.0 L206.0,293.0 L208.0,295.0 L207.6,299.0 L209.0,304.0 L208.0,307.0"/>
<path d="M208.0,307.0 L203.0,306.0 L202.0,311.0 L201.0,316.6"/>
<path d="M181.0,307.0 L185.0,308.0 L189.6,311.4"/>
<path d="M208.0,307.0 L210.0,308.0 L215.0,304.0 L214.0,300.0 L220.0,299.0 L223.6,297.0"/>
<path d="M227.0,290.0 L224.0,292.0 L222.4,295.0 L223.6,297.0"/>
<path d="M223.6,297.0 L225.0,302.0 L226.0,306.0 L229.0,306.0 L231.0,304.0"/>
<path d="M230.0,293.4 L229.0,298.0 L231.0,304.0"/>
<path d="M231.0,304.0 L235.0,303.4 L237.6,303.0"/>
<path d="M201.0,335.4 L205.0,337.0 L212.0,335.4 L215.0,342.0 L220.0,344.0 L225.0,347.0 L226.0,353.0 L231.0,356.0 L232.0,361.0"/>
<path d="M205.0,354.0 L207.0,361.0 L209.0,367.0 L211.0,370.0"/>
<path d="M211.0,370.0 L213.0,368.0 L217.0,369.0 L221.0,367.0"/>
<path d="M221.0,367.0 L223.0,362.0 L228.0,360.6 L232.0,361.0"/>
<path d="M232.0,361.0 L233.0,367.0 L237.0,369.0 L240.0,374.0 L241.0,377.0"/>
<path d="M221.0,367.0 L226.0,372.0 L232.0,375.0 L234.0,380.0 L238.0,382.0 L241.0,377.0"/>
<path d="M211.0,370.0 L209.0,368.0 L208.0,376.0 L209.0,384.0 L208.0,392.0 L210.0,400.0 L211.0,408.0 L212.0,416.0 L214.0,424.0 L215.0,432.0 L217.0,439.0 L220.0,444.0 L224.0,446.0 L226.0,445.6 L225.6,450.4"/>
<path d="M241.0,377.0 L243.6,379.0 L241.0,382.0 L237.0,384.0 L235.6,389.0 L235.0,395.0 L236.0,399.0 L239.0,402.0"/>
<path d="M235.6,389.0 L240.0,391.0 L246.0,396.0 L246.4,398.0"/>
<path d="M688.0,316.4 L687.0,333.6"/>
<path d="M405.6,131.5 L402.1,134.4 L396.2,136.2 L392.6,136.8 L388.5,142.1 L385.6,145.6 L384.4,150.3 L385.0,155.6 L383.2,157.9"/>
<path d="M403.2,135.0 L404.4,138.5 L405.4,142.1"/>
<path d="M403.2,135.0 L406.8,132.6 L410.3,131.5 L412.6,132.6 L413.8,131.2"/>
<path d="M412.6,132.6 L413.2,136.8 L416.2,142.1 L417.4,145.6 L419.7,149.7 L416.2,153.8 L416.2,155.0"/>
<path d="M415.0,156.2 L415.6,159.1 L416.2,161.5"/>
<path d="M407.0,160.9 L411.5,160.3 L416.2,161.5"/>
<path d="M403.8,164.4 L407.9,163.8 L412.6,164.4 L416.2,165.6"/>
<path d="M416.2,161.5 L417.4,163.8 L416.2,165.6"/>
<path d="M379.7,169.1 L382.1,168.5"/>
<path d="M390.8,170.0 L391.8,173.0 L391.2,176.0 L392.0,178.5"/>
<path d="M392.0,178.5 L389.5,178.0 L387.5,179.5 L388.5,181.5 L391.0,183.2"/>
<path d="M391.0,183.2 L388.0,183.5 L385.0,184.5 L382.5,186.2 L379.0,186.2 L376.5,186.5"/>
<path d="M376.5,186.5 L376.0,184.0 L377.0,181.5 L375.0,180.5 L374.5,178.5 L375.0,176.0 L376.0,172.5 L377.5,171.0"/>
<path d="M371.0,175.0 L373.0,176.0 L375.0,176.0"/>
<path d="M368.0,176.5 L371.0,178.5 L373.5,179.5 L375.0,180.5"/>
<path d="M376.5,186.5 L375.5,188.0 L375.0,190.0 L376.5,189.5"/>
<path d="M376.5,189.5 L379.0,190.0 L381.5,189.0 L382.5,188.0 L382.5,186.2"/>
<path d="M376.5,189.5 L377.0,192.0 L376.5,194.5 L378.5,195.5"/>
<path d="M382.5,188.0 L386.0,189.0 L390.5,189.5"/>
<path d="M391.0,183.2 L394.0,184.0 L397.0,183.5 L398.5,182.5"/>
<path d="M398.5,182.5 L398.0,186.5 L397.0,188.0"/>
<path d="M392.0,178.5 L395.0,179.5 L398.0,180.5 L400.0,181.5 L398.5,182.5"/>
<path d="M400.0,181.5 L404.0,182.2 L408.0,182.5 L409.0,181.5"/>
<path d="M398.5,184.5 L402.0,184.0 L406.0,183.5 L408.5,184.0"/>
<path d="M408.5,181.5 L408.5,184.0"/>
<path d="M408.5,184.0 L407.0,187.0 L405.5,189.5"/>
<path d="M397.0,188.0 L398.5,189.5 L402.0,190.0 L405.5,189.5"/>
<path d="M408.5,184.0 L412.0,185.0 L415.0,184.5 L417.0,184.2"/>
<path d="M422.2,191.5 L424.0,192.0"/>
<path d="M411.0,195.5 L415.0,195.0 L419.0,194.5 L421.5,195.5"/>
<path d="M405.5,189.5 L407.0,192.0 L409.0,194.0 L411.0,195.5"/>
<path d="M411.0,195.5 L411.2,198.5 L411.8,201.0"/>
<path d="M411.8,202.8 L415.0,203.0 L418.5,202.5 L420.0,201.0 L422.0,200.5"/>
<path d="M419.5,202.5 L419.0,204.0"/>
<path d="M405.5,204.0 L407.0,203.2 L408.5,203.2"/>
<path d="M404.5,201.5 L405.2,199.5 L405.2,198.0"/>
<path d="M405.5,204.0 L404.8,205.0"/>
<path d="M394.5,191.0 L397.0,191.0 L399.5,190.5 L402.0,190.0"/>
<path d="M397.0,191.5 L399.5,193.0 L402.5,193.5 L403.5,196.5 L402.5,198.0 L400.0,196.0 L397.5,193.5 L397.0,191.5"/>
<path d="M402.5,198.0 L404.5,199.5 L405.2,198.0"/>
<path d="M403.5,196.5 L405.2,198.0"/>
<path d="M404.5,167.5 L408.0,168.0 L409.5,170.0 L410.5,173.0 L410.0,176.0 L410.5,179.0 L409.0,181.5"/>
<path d="M403.5,165.0 L407.0,164.0 L411.0,164.5 L414.0,165.5"/>
<path d="M410.0,176.0 L415.0,175.0 L421.0,175.5 L425.5,176.0"/>
<path d="M416.0,163.0 L421.0,166.0 L424.0,170.0 L426.5,173.0 L425.5,176.0"/>
<path d="M409.5,170.0 L412.0,169.0 L414.0,165.5 L416.0,163.0"/>
<path d="M425.5,176.0 L429.0,175.0 L433.0,177.5 L436.0,178.5 L439.0,179.5 L442.5,181.0 L444.0,184.0 L442.0,187.0 L439.0,187.5"/>
<path d="M344.4,202.6 L347.9,203.2 L349.1,205.6 L347.9,209.1 L347.4,213.2"/>
<path d="M359.5,196.8 L364.4,198.5 L369.1,199.7"/>
<path d="M440.5,214.5 L445.0,213.5 L450.0,212.8 L455.0,212.2 L458.2,211.8"/>
<path d="M458.2,211.8 L458.5,209.0 L457.5,206.5 L456.5,204.0 L455.0,202.0 L452.5,201.2 L450.0,200.0"/>
<path d="M446.0,196.5 L451.0,197.2 L456.0,198.5 L460.0,200.0 L463.0,201.0 L465.0,199.5 L467.5,200.0"/>
<path d="M455.0,202.0 L459.0,202.5 L461.5,201.8 L463.0,202.5 L460.0,200.0"/>
<path d="M456.5,204.0 L460.0,205.0 L462.0,207.5 L465.0,207.0 L468.0,208.5"/>
<path d="M458.2,211.8 L460.0,215.0 L462.5,219.0 L465.0,223.0 L468.0,226.5 L469.5,230.5 L470.2,232.0"/>
<path d="M455.0,212.2 L453.5,217.0 L450.0,219.5 L448.0,221.2"/>
<path d="M442.5,224.0 L448.0,221.2 L449.0,224.0"/>
<path d="M449.0,224.0 L445.5,226.0 L448.0,228.5 L445.0,230.0 L441.0,233.0 L439.5,234.0"/>
<path d="M449.0,224.0 L454.0,226.5 L459.0,230.0 L463.0,233.0 L467.0,234.0"/>
<path d="M467.0,234.0 L468.5,232.0 L470.2,232.0"/>
<path d="M467.0,234.0 L470.0,234.5"/>
<path d="M439.5,224.5 L441.0,223.0 L441.5,226.0 L440.5,230.0 L439.5,234.0"/>
<path d="M438.0,228.5 L439.5,234.0"/>
<path d="M478.5,213.5 L482.0,211.5 L486.0,211.0 L489.5,212.5 L493.0,214.5 L496.0,217.5 L497.5,218.0"/>
<path d="M497.5,218.0 L495.5,220.0 L496.0,224.5 L499.0,228.5 L498.0,232.0 L501.0,234.0"/>
<path d="M501.0,234.0 L504.0,236.0 L504.5,239.5 L502.0,241.5 L500.5,244.5"/>
<path d="M501.0,234.0 L507.0,233.5 L510.0,231.0 L512.0,228.0 L515.0,225.5 L517.5,222.0 L518.5,217.0 L517.0,213.5 L520.0,211.5"/>
<path d="M497.5,218.0 L501.0,216.0 L504.0,213.5 L506.5,212.5"/>
<path d="M506.5,212.5 L509.5,211.5 L514.0,210.0 L516.0,211.5 L518.5,209.0 L520.0,209.5"/>
<path d="M478.5,192.5 L482.0,191.2 L487.0,193.0 L492.0,195.5 L496.0,197.5 L500.0,197.0 L504.0,201.0 L507.0,203.0"/>
<path d="M479.0,202.0 L482.0,201.0 L486.0,198.5 L489.0,200.0 L492.0,203.0 L495.0,205.0 L499.0,208.0 L503.0,210.5 L506.5,212.5"/>
<path d="M478.5,192.5 L478.2,196.5 L479.5,200.0 L479.0,202.0"/>
<path d="M507.0,203.0 L511.0,199.5 L515.0,198.0 L520.0,197.0"/>
<path d="M507.0,203.0 L508.5,206.0 L512.0,206.5 L515.0,205.0 L518.0,206.0 L520.0,205.0"/>
<path d="M508.5,206.0 L507.5,209.0 L509.5,211.5"/>
<path d="M460.6,265.0 L467.1,263.8 L470.6,265.6 L474.1,262.1 L481.2,260.3"/>
<path d="M481.2,260.3 L483.5,266.8"/>
<path d="M481.2,260.3 L487.6,257.9 L488.8,252.1"/>
<path d="M488.8,252.1 L487.6,250.3 L489.4,245.6 L489.4,242.1"/>
<path d="M480.0,246.8 L482.4,250.3 L488.8,252.1"/>
<path d="M441.8,299.1 L442.9,305.0"/>
<path d="M457.0,180.0 L463.0,175.4 L472.0,175.4 L482.0,175.0 L485.0,177.0 L482.0,173.0 L483.0,169.4 L492.0,167.0 L497.0,166.0 L502.0,169.0 L508.0,170.0 L511.0,168.6 L516.0,172.0 L521.0,176.0 L528.0,177.4 L535.0,180.0 L538.0,182.0"/>
<path d="M457.0,180.0 L458.0,184.0 L463.0,189.0"/>
<path d="M538.0,182.0 L546.0,178.0 L552.0,179.4 L558.0,175.0 L564.0,176.0 L572.0,179.0 L580.0,180.6 L590.0,180.6"/>
<path d="M538.0,182.0 L542.0,185.0 L548.0,187.0 L552.0,191.4 L560.0,194.0 L568.0,197.4 L578.0,199.0 L586.0,200.6 L590.0,199.0"/>
<path d="M538.0,182.0 L537.0,185.0 L533.0,187.4 L531.0,191.0 L530.0,196.0"/>
<path d="M590.0,180.4 L597.0,181.0"/>
<path d="M590.0,199.0 L595.0,197.0 L594.0,193.0 L600.0,190.0 L607.0,187.0 L603.0,185.0 L598.0,185.0 L597.0,181.0"/>
<path d="M597.0,181.0 L600.0,180.0 L599.0,174.0 L602.0,172.0 L610.0,172.0 L616.0,175.0"/>
<path d="M613.0,175.0 L616.0,178.0 L620.0,180.5 L625.0,182.5 L629.5,185.0 L633.0,184.5 L636.2,183.5 L637.0,187.0 L638.0,191.0 L635.0,192.5 L635.5,194.5 L637.0,196.5 L637.5,198.5"/>
<path d="M637.0,199.5 L634.5,199.0 L632.0,201.0 L630.0,202.5 L628.0,205.5"/>
<path d="M634.5,211.0 L637.5,209.5"/>
<path d="M539.6,231.4 L546.0,232.0 L553.0,235.0 L560.0,237.4"/>
<path d="M561.6,236.6 L566.0,235.6 L569.0,236.0"/>
<path d="M596.0,295.0 L599.0,296.0"/>
<path d="M569.0,250.0 L571.0,252.0"/>
<path d="M500.0,231.0 L500.0,231.0"/>
<path d="M350.0,226.0 L345.0,233.0 L343.0,238.0"/>
<path d="M343.0,238.0 L351.0,244.0 L362.0,252.0 L372.0,259.4"/>
<path d="M351.0,244.0 L350.0,269.0 L336.0,269.4 L331.0,267.4 L327.0,265.0"/>
<path d="M372.0,259.8 L379.0,256.0 L385.6,251.4 L390.0,248.2"/>
<path d="M380.0,219.0 L382.0,226.0 L384.0,231.0 L385.0,241.0 L386.6,245.0 L390.0,248.2"/>
<path d="M384.0,231.0 L387.0,229.0 L389.0,225.0"/>
<path d="M390.0,248.2 L396.0,250.4 L398.2,248.2 L417.0,258.4 L419.0,258.0"/>
<path d="M418.0,227.0 L419.0,258.0"/>
<path d="M419.0,252.6 L447.0,252.6"/>
<path d="M396.4,250.4 L398.2,255.0 L398.6,257.4 L397.4,266.2 L393.8,271.4 L393.0,274.0 L396.4,276.0"/>
<path d="M371.0,274.0 L376.0,273.0 L384.0,275.0 L390.0,274.6 L394.0,274.0"/>
<path d="M372.0,259.4 L372.0,265.0 L369.0,269.0 L364.0,271.0 L367.0,275.0 L370.0,277.0 L371.0,274.0"/>
<path d="M364.0,271.0 L359.0,272.0 L355.0,276.0 L352.0,279.0"/>
<path d="M370.0,277.0 L369.0,284.0 L368.0,295.0"/>
<path d="M365.0,281.0 L365.0,295.0"/>
<path d="M362.4,282.0 L362.4,296.0"/>
<path d="M356.0,283.0 L356.4,296.6"/>
<path d="M352.0,279.0 L356.0,282.0 L362.4,281.0 L367.0,280.0 L370.0,277.0"/>
<path d="M345.0,284.0 L346.0,291.0 L345.0,298.0"/>
<path d="M345.0,284.0 L349.0,282.0 L352.0,279.0"/>
<path d="M336.0,275.0 L342.0,276.0 L345.0,279.0 L345.0,284.0"/>
<path d="M336.0,269.4 L336.0,275.0 L330.0,275.0 L325.6,276.0"/>
<path d="M330.0,284.0 L335.0,283.0 L338.0,287.0 L340.0,290.0 L345.0,292.0"/>
<path d="M327.0,279.0 L332.0,278.6 L335.0,283.0"/>
<path d="M333.0,289.0 L338.0,287.0"/>
<path d="M396.4,276.0 L395.0,281.0 L390.0,288.0 L386.0,292.0 L383.0,295.0 L381.6,299.0"/>
<path d="M396.4,276.0 L398.0,284.0 L398.0,289.0 L404.0,286.0"/>
<path d="M398.0,289.0 L397.0,295.0 L398.0,301.0 L404.0,301.0"/>
<path d="M404.0,301.0 L406.0,298.0"/>
<path d="M443.0,313.0 L453.0,321.0"/>
<path d="M385.0,303.0 L392.0,302.6 L398.0,301.0"/>
<path d="M387.0,309.0 L394.0,309.0 L398.0,312.0 L396.0,317.0 L390.0,323.0"/>
<path d="M404.0,301.0 L403.0,309.0 L400.0,317.0 L396.0,323.0 L392.0,327.0"/>
<path d="M387.0,306.0 L390.0,306.0 L390.0,309.0"/>
<path d="M391.0,324.0 L401.0,325.0 L404.0,330.0 L410.0,329.0 L414.0,330.0 L414.4,338.0 L418.0,340.0 L417.0,343.0 L413.6,344.0 L413.6,355.0"/>
<path d="M389.6,354.0 L400.0,355.0 L410.0,356.6 L413.6,355.0 L420.0,356.6 L425.0,355.0"/>
<path d="M418.0,340.0 L423.0,340.0 L429.0,342.0 L431.0,344.0 L430.0,337.0 L429.0,333.0 L433.0,331.0"/>
<path d="M437.0,334.6 L439.0,338.0 L441.0,337.0 L442.0,343.0 L444.0,348.0 L443.0,353.0 L441.0,350.0 L439.6,344.0 L439.0,338.0"/>
<path d="M439.0,344.0 L438.0,348.0 L432.0,350.6 L427.0,355.0 L425.0,355.0"/>
<path d="M432.0,350.6 L437.0,353.0 L437.6,360.0 L436.0,365.0 L433.0,368.0 L428.0,367.4 L424.0,363.0 L421.0,357.4 L425.0,355.0"/>
<path d="M410.0,356.6 L409.0,365.0 L408.0,374.0 L410.0,379.0 L414.0,376.0 L419.0,375.0 L423.0,372.0 L428.0,367.4"/>
<path d="M408.0,374.0 L407.0,385.0 L402.4,386.0"/>
<path d="M433.0,368.0 L435.0,374.0 L436.0,377.0"/>
<path d="M423.0,387.0 L425.6,384.6 L428.0,387.0 L425.6,390.0 L423.0,387.0"/>
<path d="M432.4,378.0 L434.0,376.6 L435.6,378.6 L434.0,381.0 L432.4,378.0"/>
<path d="M444.0,340.6 L450.0,339.4 L455.0,338.0"/>
<path d="M431.0,326.0 L429.0,333.0"/>
<path d="M580.0,237.5 L583.5,238.0 L584.5,241.0 L582.5,244.5 L583.5,247.0 L586.5,250.0 L588.5,252.5 L591.5,253.5"/>
<path d="M591.5,253.5 L592.5,252.0 L594.5,250.5 L597.0,251.0 L600.0,249.0 L602.5,250.0 L604.0,253.0 L607.0,254.0"/>
<path d="M591.5,253.5 L590.0,256.0 L586.5,257.5 L584.5,260.0 L584.5,263.0 L586.5,266.0 L588.5,270.0 L589.5,274.5 L590.0,279.0"/>
<path d="M597.0,251.0 L598.5,254.5 L600.5,256.5 L599.5,259.0 L603.0,262.0 L605.0,265.0 L607.5,268.0 L608.5,270.5 L608.5,272.5"/>
<path d="M591.5,253.5 L593.5,255.0 L592.5,258.0 L593.0,263.0 L595.0,263.5 L599.0,262.0 L600.5,263.5 L603.0,267.0 L604.0,270.5 L604.5,273.0"/>
<path d="M604.5,273.0 L601.0,272.5 L598.5,273.5 L597.5,276.0 L598.5,279.0"/>
<path d="M604.5,273.0 L606.5,273.5 L608.5,272.5"/>
<path d="M608.5,272.5 L609.0,276.0 L607.0,279.0 L606.0,281.5 L603.5,282.0 L603.0,283.0"/>
<path d="M417.0,258.0 L417.5,264.0 L417.8,269.0 L415.0,271.0 L413.2,275.0 L414.0,279.0 L415.0,281.2"/>
<path d="M405.0,288.0 L409.0,286.0 L412.0,284.0 L415.0,281.2"/>
<path d="M415.0,281.2 L417.0,285.0 L418.5,287.0 L421.5,291.0 L425.0,295.0 L426.5,297.0"/>
<path d="M418.5,287.0 L420.0,284.0 L422.0,282.5 L425.0,285.0 L429.0,285.0 L432.0,283.5 L435.0,284.5 L436.0,281.0 L436.5,278.5 L439.0,278.2 L439.5,281.5 L440.5,284.0 L440.0,286.0"/>
<path d="M440.0,286.0 L441.5,282.0 L444.0,277.0 L445.5,274.5 L446.0,272.5"/>
<path d="M446.0,272.5 L446.5,268.0 L448.0,265.0 L450.0,263.5"/>
<path d="M446.0,272.5 L449.0,271.5 L453.0,271.5 L456.0,273.5 L458.5,276.5 L459.5,278.0"/>
<path d="M459.5,278.0 L461.0,277.5 L462.5,279.0 L462.0,281.0 L460.0,281.5 L459.0,279.8 L459.5,278.0"/>
<path d="M440.0,286.0 L439.0,289.0 L441.5,292.0 L443.5,294.5 L445.0,295.8"/>
<path d="M445.0,295.8 L447.0,298.0 L450.5,299.5 L453.0,300.5 L456.0,299.0 L459.5,299.5"/>
<path d="M462.0,281.5 L464.0,284.0 L468.0,286.5 L473.0,289.0 L470.5,292.5 L467.0,295.5 L464.0,298.0 L459.5,299.5"/>
<path d="M459.5,299.5 L457.5,302.5 L457.8,308.0 L459.5,313.0"/>
<path d="M445.0,295.8 L442.5,299.0 L439.0,300.0 L434.0,300.5"/>
<path d="M426.5,297.0 L429.0,299.0 L431.5,298.5 L434.0,300.5"/>
<path d="M406.0,297.0 L408.0,296.5 L411.0,298.5 L415.0,299.0 L419.0,297.0 L423.0,296.0 L426.5,297.0"/>
<path d="M434.0,300.5 L434.5,304.0 L433.0,307.0 L432.0,311.0 L431.2,315.0"/>
<path d="M442.5,299.0 L443.5,303.0 L443.0,307.0 L441.5,310.5 L441.0,313.0"/>
<path d="M530.0,196.0 L532.0,197.5 L531.5,199.5"/>
<path d="M520.0,197.0 L522.0,197.2 L527.0,197.5 L531.5,199.5"/>
<path d="M531.5,199.5 L529.0,201.5 L526.0,203.0 L522.5,204.5 L520.5,206.0 L520.0,207.5"/>
<path d="M520.0,205.0 L520.0,207.5 L521.5,209.5 L523.5,211.5 L524.5,213.0"/>
<path d="M520.0,211.5 L524.5,213.0 L526.5,215.0 L529.0,216.5 L532.0,217.8"/>
<path d="M615.5,305.0 L617.5,307.5 L621.0,307.0 L625.0,306.0 L628.0,304.5 L629.5,300.0 L630.5,298.5 L635.5,298.5"/>
</g>
</svg>
<svg class="legend" width="850" height="600" viewBox="0 0 850 600">
<defs>
<pattern id="hatch" patternUnits="userSpaceOnUse" width="4" height="4" patternTransform="rotate(45)">
<rect width="4" height="4" fill="#fff"/><line x1="0" y1="0" x2="0" y2="4" stroke="#d6d6d6" stroke-width="1.6"/>
</pattern>
</defs>
<g font-family="Liberation Sans, sans-serif" font-size="13" fill="#5b5b5b" text-anchor="middle">
<text x="357" y="510">No data</text>
<text x="429" y="510">Man</text>
<text x="488" y="510">Woman</text>
</g>
<g stroke="#8a8a8a" stroke-width="0.7"><line x1="357" y1="513.5" x2="357" y2="517"/><line x1="429" y1="513.5" x2="429" y2="517"/><line x1="488" y1="513.5" x2="488" y2="517"/></g>
<rect x="333" y="517" width="48" height="11" fill="url(#hatch)" stroke="#ccc" stroke-width="0.6"/>
<rect x="400" y="517" width="58.5" height="11" fill="#e3ba9d" stroke="#bbb" stroke-width="0.4"/>
<rect x="458.5" y="517" width="58.5" height="11" fill="#853e8c" stroke="#bbb" stroke-width="0.4"/>
</svg>
<div class="footer src"><b>Data source:</b> V-Dem (2025)</div>
<div class="footer note"><b>Note:</b> This is recorded on December 31 of each year.</div>
<div class="footer url">OurWorldinData.org/women-rights | CC BY</div>
</body>
</html>
